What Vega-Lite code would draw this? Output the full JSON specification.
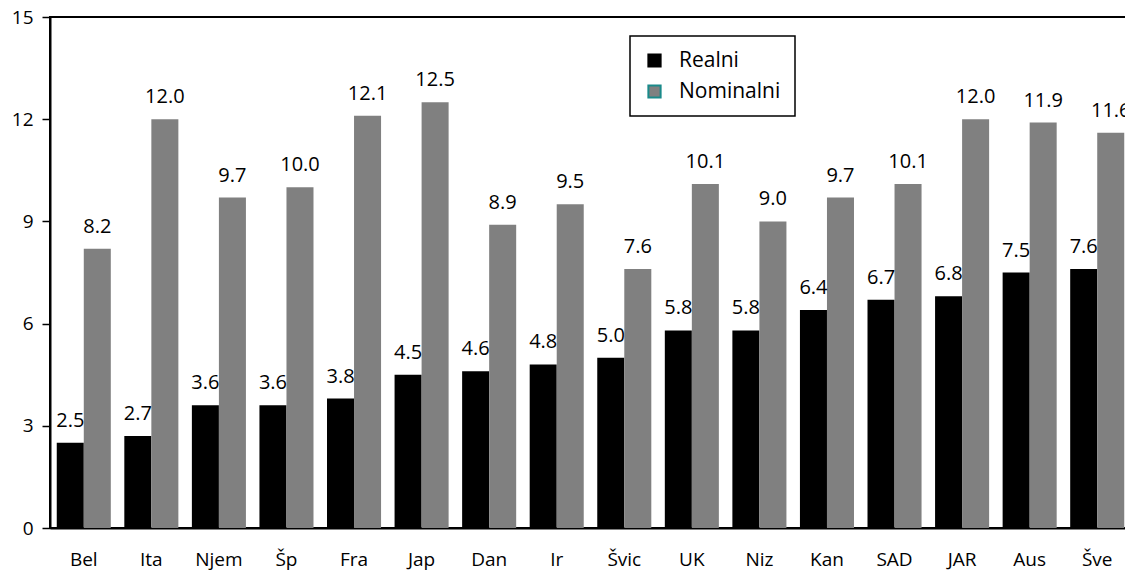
{
  "$schema": "https://vega.github.io/schema/vega-lite/v6.json",
  "width": 1081,
  "height": 511,
  "autosize": {"type": "none"},
  "padding": {"left": 50, "top": 17, "right": 0, "bottom": 43},
  "background": "white",
  "config": {
    "font": "Open Sans",
    "view": {"stroke": "black", "strokeWidth": 2},
    "axis": {"grid": false, "labelFont": "Open Sans", "labelFontSize": 19, "labelColor": "black", "domainColor": "black", "tickColor": "black"}
  },
  "data": {
    "values": [
      {"land": "Bel", "serie": "Realni", "v": 2.5}, {"land": "Bel", "serie": "Nominalni", "v": 8.2},
      {"land": "Ita", "serie": "Realni", "v": 2.7}, {"land": "Ita", "serie": "Nominalni", "v": 12.0},
      {"land": "Njem", "serie": "Realni", "v": 3.6}, {"land": "Njem", "serie": "Nominalni", "v": 9.7},
      {"land": "Šp", "serie": "Realni", "v": 3.6}, {"land": "Šp", "serie": "Nominalni", "v": 10.0},
      {"land": "Fra", "serie": "Realni", "v": 3.8}, {"land": "Fra", "serie": "Nominalni", "v": 12.1},
      {"land": "Jap", "serie": "Realni", "v": 4.5}, {"land": "Jap", "serie": "Nominalni", "v": 12.5},
      {"land": "Dan", "serie": "Realni", "v": 4.6}, {"land": "Dan", "serie": "Nominalni", "v": 8.9},
      {"land": "Ir", "serie": "Realni", "v": 4.8}, {"land": "Ir", "serie": "Nominalni", "v": 9.5},
      {"land": "Švic", "serie": "Realni", "v": 5.0}, {"land": "Švic", "serie": "Nominalni", "v": 7.6},
      {"land": "UK", "serie": "Realni", "v": 5.8}, {"land": "UK", "serie": "Nominalni", "v": 10.1},
      {"land": "Niz", "serie": "Realni", "v": 5.8}, {"land": "Niz", "serie": "Nominalni", "v": 9.0},
      {"land": "Kan", "serie": "Realni", "v": 6.4}, {"land": "Kan", "serie": "Nominalni", "v": 9.7},
      {"land": "SAD", "serie": "Realni", "v": 6.7}, {"land": "SAD", "serie": "Nominalni", "v": 10.1},
      {"land": "JAR", "serie": "Realni", "v": 6.8}, {"land": "JAR", "serie": "Nominalni", "v": 12.0},
      {"land": "Aus", "serie": "Realni", "v": 7.5}, {"land": "Aus", "serie": "Nominalni", "v": 11.9},
      {"land": "Šve", "serie": "Realni", "v": 7.6}, {"land": "Šve", "serie": "Nominalni", "v": 11.6}
    ]
  },
  "encoding": {
    "x": {
      "field": "land", "type": "nominal", "sort": null,
      "scale": {"paddingInner": 0.2, "paddingOuter": 0.1},
      "axis": {"title": null, "labelAngle": 0, "ticks": false, "labelPadding": 22, "domainWidth": 2}
    },
    "xOffset": {"field": "serie", "type": "nominal", "sort": ["Realni", "Nominalni"], "scale": {"paddingInner": 0, "paddingOuter": 0}},
    "y": {
      "field": "v", "type": "quantitative",
      "scale": {"domain": [0, 15], "nice": false},
      "axis": {"title": null, "values": [0, 3, 6, 9, 12, 15], "tickSize": 8, "tickWidth": 1.5, "labelPadding": 9, "domainWidth": 2}
    }
  },
  "layer": [
    {
      "mark": {"type": "bar", "strokeWidth": 0},
      "encoding": {
        "fill": {
          "field": "serie", "type": "nominal", "sort": ["Realni", "Nominalni"],
          "scale": {"domain": ["Realni", "Nominalni"], "range": ["#000000", "#808080"]},
          "legend": {
            "title": null, "orient": "none", "legendX": 580, "legendY": 19,
            "direction": "vertical",
            "strokeColor": "black", "padding": 14,
            "symbolType": "square", "symbolSize": 150,
            "labelFontSize": 21, "labelFont": "Open Sans", "labelColor": "black",
            "rowPadding": 9, "labelOffset": 14,
            "fillColor": "white",
            "encode": {
              "legend": {"update": {"strokeWidth": {"value": 1.5}}},
              "symbols": {"update": {"stroke": {"signal": "datum.value === 'Nominalni' ? '#1a8a8a' : '#000000'"}, "strokeWidth": {"value": 2}}}
            }
          }
        }
      }
    },
    {
      "mark": {"type": "text", "baseline": "bottom", "dy": -12, "fontSize": 20, "font": "Open Sans", "color": "black"},
      "encoding": {
        "text": {"field": "v", "type": "quantitative", "format": ".1f"}
      }
    }
  ]
}
